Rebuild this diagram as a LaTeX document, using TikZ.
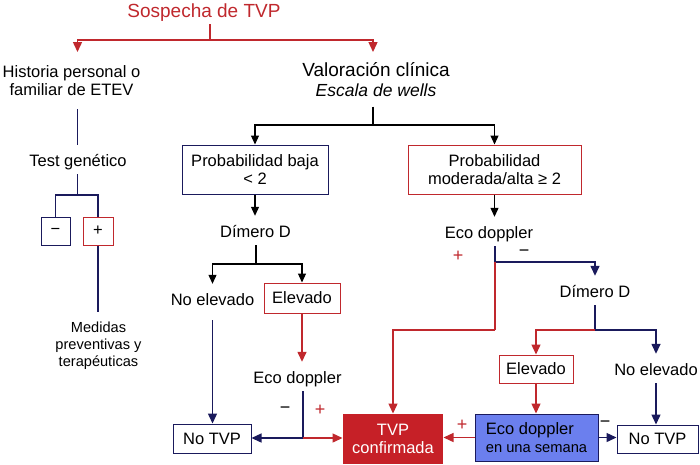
\documentclass[tikz,border=0pt]{standalone}
\usepackage{fontspec}
\setmainfont{Liberation Sans}
\usetikzlibrary{arrows.meta}
\definecolor{rd}{HTML}{C0282D}
\definecolor{tvpred}{HTML}{C62027}
\definecolor{nv}{HTML}{1A1A5C}
\definecolor{bl}{HTML}{6B7FEE}
\begin{document}
\begin{tikzpicture}[x=1pt,y=-1pt,
  txt/.style={font=\fontsize{16.5}{18.7}\selectfont, text height=13pt, text depth=0pt, inner xsep=2pt, inner ysep=8pt, anchor=base},
  box/.style={draw=nv, line width=1pt, inner sep=0pt, align=center, font=\fontsize{16.5}{18.5}\selectfont},
  lbl/.style={font=\fontsize{18}{20}\selectfont, inner sep=0pt},
  bk/.style={line width=1.1pt, draw=black},
  nl/.style={line width=1.4pt, draw=nv},
  rl/.style={line width=1.4pt, draw=rd},
  arrB/.style={-{Triangle[width=8pt,length=9pt]}},
  arrC/.style={-{Triangle[width=9pt,length=10pt]}}
]
\fill[white] (0,0) rectangle (700,464);
\useasboundingbox (0,0) rectangle (700,464);

% nodes
\node[txt, font=\fontsize{19}{22}\selectfont, text=rd, inner ysep=7pt] (title) at (204,17) {Sospecha de TVP};
\node[align=center, anchor=north, inner ysep=13pt, inner xsep=0pt, font=\fontsize{16.5}{18.7}\selectfont] (hist) at (71.5,52) {Historia personal o\\familiar de ETEV};
\node[align=center, anchor=north, inner ysep=10pt, font=\fontsize{19}{20}\selectfont] (valor) at (376,52) {Valoración clínica\\{\fontsize{17.5}{20}\selectfont\itshape Escala de wells}};
\node[txt] (test) at (78,166) {Test genético};
\node[box, minimum width=29pt, minimum height=28pt] (minus) at (55.5,231) {−};
\node[box, draw=rd, minimum width=30pt, minimum height=28pt] (plus) at (98,231) {+};
\node[align=center, anchor=north, inner ysep=10pt, font=\fontsize{14.6}{17}\selectfont] (med) at (98.5,312) {Medidas\\preventivas y\\terapéuticas};

\node[box, minimum width=146pt, minimum height=49pt] (pb) at (255,169.5) {Probabilidad baja\\< 2};
\node[box, draw=rd, minimum width=173pt, minimum height=49pt] (pm) at (494.5,169.5) {Probabilidad\\moderada/alta ≥ 2};
\node[txt] (dimL) at (255.5,237) {Dímero D};
\node[txt, text depth=7pt] (noelevL) at (212.5,305) {No elevado};
\node[box, draw=rd, minimum width=76pt, minimum height=30pt] (elevL) at (302,298) {Elevado};
\node[txt] (ecoL) at (297.5,383) {Eco doppler};
\node[box, minimum width=78pt, minimum height=29pt] (ntL) at (212,438.5) {No TVP};
\node[box, draw=none, fill=tvpred, text=white, minimum width=100pt, minimum height=50pt] (tvp) at (393,439) {TVP\\confirmada};

\node[txt] (ecoR) at (489,238) {Eco doppler};
\node[txt] (dimR) at (595,297) {Dímero D};
\node[box, draw=rd, minimum width=74pt, minimum height=28pt] (elevR) at (536,369) {Elevado};
\node[txt] (noelevR) at (656,375) {No elevado};
\node[box, fill=bl, align=left, minimum width=123pt, minimum height=47pt] (eco) at (536.5,437.5) {Eco doppler\\{\fontsize{14.7}{17}\selectfont en una semana}};
\node[box, minimum width=81pt, minimum height=28pt] (ntR) at (657.5,439) {No TVP};

% labels
\node[lbl] (mL) at (285,410) {−};
\node[lbl, text=rd] (pL) at (320,410) {+};
\node[lbl, text=rd] (pR) at (458,256) {+};
\node[lbl] (mR) at (524,253) {−};
\node[lbl, text=rd] (pE) at (462,425) {+};
\node[lbl] (mE) at (605,424) {−};

% coordinates
\coordinate (t0) at (210,40);
\coordinate (hx) at (77.5,0);
\coordinate (tb) at (77.5,195);
\coordinate (vb) at (373,125);
\coordinate (brL) at (256,264);
\coordinate (jL) at (303,438);
\coordinate (jR) at (495,262);
\coordinate (kR) at (495,330);
\coordinate (jD) at (595,330);

% connectors
\draw[rl] (title.south -| t0) -- (t0);
\draw[rl, arrC] (t0) -| (hist.north -| hx);
\draw[rl, arrC] (t0) -| (valor.north -| vb);

\draw[nl] (hist.south -| hx) -- (test.north -| hx);
\draw[nl] (test.south -| hx) -- (tb);
\draw[nl] (tb) -| (minus.north);
\draw[nl] (tb) -| (plus.north);
\draw[nl] (plus.south) -- (med.north -| plus.south);

\draw[bk] (valor.south -| vb) -- (vb);
\draw[bk, arrB] (vb) -| (pb.north);
\draw[bk, arrB] (vb) -| (pm.north);
\draw[bk, arrB] (pb.south) -- (dimL.north -| pb.south);
\draw[bk] (dimL.south -| brL) -- (brL);
\draw[bk, arrB] (brL) -| (noelevL.north);
\draw[bk, arrB] (brL) -| (elevL.north);
\draw[nl, arrC] (noelevL.south) -- (ntL.north -| noelevL.south);
\draw[rl, arrC] (elevL.south) -- (ecoL.north -| elevL.south);
\draw[nl] (ecoL.south -| jL) -- (jL);
\draw[nl, arrC] (jL) -- (ntL.east |- jL);
\draw[rl, arrC] (jL) -- (tvp.west |- jL);

\draw[bk, arrB] (pm.south) -- (ecoR.north -| pm.south);
\draw[nl] (ecoR.south -| jR) -- (jR);
\draw[nl, arrC] (jR) -| (dimR.north);
\draw[rl] (jR) -- (kR);
\draw[rl, arrC] (kR) -| (tvp.north);
\draw[nl] (dimR.south) -- (jD);
\draw[rl, arrC] (jD) -| (elevR.north);
\draw[nl, arrC] (jD) -| (noelevR.north);
\draw[rl, arrC] (elevR.south) -- (eco.north -| elevR.south);
\draw[nl, arrC] (noelevR.south) -- (ntR.north -| noelevR.south);
\draw[rl, arrC] (eco.west) -- (tvp.east |- eco.west);
\draw[nl, arrC] (eco.east) -- (ntR.west |- eco.east);
\end{tikzpicture}
\end{document}
